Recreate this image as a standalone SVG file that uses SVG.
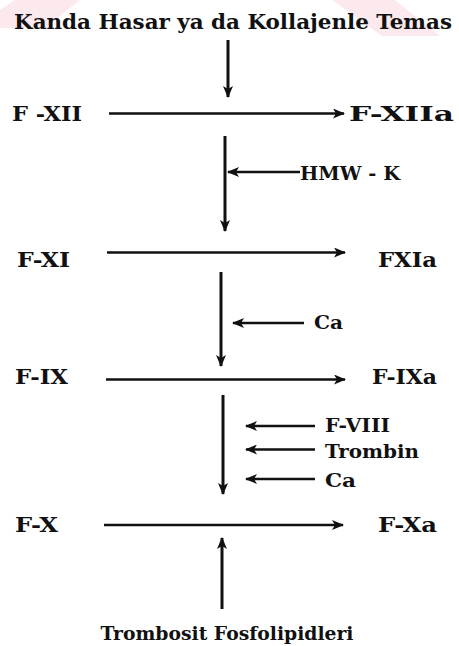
<svg xmlns="http://www.w3.org/2000/svg" width="459" height="646" viewBox="0 0 459 646">
  <defs>
    <marker id="head" viewBox="0 0 12 10" refX="11" refY="5" markerWidth="12" markerHeight="10" markerUnits="userSpaceOnUse" orient="auto">
      <path d="M0,0 L12,5 L0,10 L3,5 Z" fill="#111"/>
    </marker>
    <style>
      .t { font-family: "DejaVu Serif", "Liberation Serif", serif; font-weight: bold; fill: #111; }
      .big { font-size: 20.5px; }
      .fac { font-size: 20px; }
      .lab { font-size: 19px; }
      .ln { stroke: #111; stroke-width: 3; fill: none; marker-end: url(#head); }
      .lnh { stroke: #111; stroke-width: 2.6; fill: none; marker-end: url(#head); }
    </style>
  </defs>
  <rect width="459" height="646" fill="#fff"/>
  <!-- faint background bands -->
  <g fill="#fbe4e8" opacity="0.8">
    <polygon points="15,0 80,0 45,28 0,28 0,10"/>
    <polygon points="332,0 395,0 440,36 382,36"/>
  </g>

  <g id="title"><text class="t big" x="233" y="29" text-anchor="middle" textLength="438" lengthAdjust="spacingAndGlyphs">Kanda Hasar ya da Kollajenle Temas</text></g>

  <g id="f12"><text class="t fac" x="12" y="121" textLength="70" lengthAdjust="spacingAndGlyphs">F -XII</text></g>
  <g id="f12a"><text class="t fac" x="349" y="121" textLength="105" lengthAdjust="spacingAndGlyphs">F-XIIa</text></g>
  <g id="hmwk"><text class="t lab" x="300" y="180" textLength="100" lengthAdjust="spacingAndGlyphs">HMW - K</text></g>

  <g id="f11"><text class="t fac" x="17" y="267" textLength="53" lengthAdjust="spacingAndGlyphs">F-XI</text></g>
  <g id="f11a"><text class="t fac" x="378" y="267" textLength="59" lengthAdjust="spacingAndGlyphs">FXIa</text></g>
  <g id="ca1"><text class="t lab" x="314" y="329" textLength="29" lengthAdjust="spacingAndGlyphs">Ca</text></g>

  <g id="f9"><text class="t fac" x="15" y="384" textLength="53" lengthAdjust="spacingAndGlyphs">F-IX</text></g>
  <g id="f9a"><text class="t fac" x="372" y="384" textLength="65" lengthAdjust="spacingAndGlyphs">F-IXa</text></g>
  <g id="f8"><text class="t lab" x="325" y="432" textLength="65" lengthAdjust="spacingAndGlyphs">F-VIII</text></g>
  <g id="trombin"><text class="t lab" x="325" y="458" textLength="94" lengthAdjust="spacingAndGlyphs">Trombin</text></g>
  <g id="ca2"><text class="t lab" x="325" y="487" textLength="31" lengthAdjust="spacingAndGlyphs">Ca</text></g>

  <g id="f10"><text class="t fac" x="15" y="532" textLength="43" lengthAdjust="spacingAndGlyphs">F-X</text></g>
  <g id="f10a"><text class="t fac" x="378" y="532" textLength="59" lengthAdjust="spacingAndGlyphs">F-Xa</text></g>
  <g id="tf"><text class="t lab" x="227" y="640" text-anchor="middle" textLength="253" lengthAdjust="spacingAndGlyphs">Trombosit Fosfolipidleri</text></g>

  <g id="connectors">
    <!-- vertical cascade -->
    <line class="ln" x1="228" y1="40" x2="228" y2="97"/>
    <line class="ln" x1="225" y1="136" x2="225" y2="231"/>
    <line class="ln" x1="221" y1="272" x2="221" y2="366"/>
    <line class="ln" x1="223" y1="395" x2="223" y2="494"/>
    <line class="ln" x1="222" y1="609" x2="222" y2="538"/>
    <!-- conversions -->
    <line class="lnh" x1="109" y1="113.5" x2="344" y2="113.5"/>
    <line class="lnh" x1="107" y1="252.5" x2="345" y2="252.5"/>
    <line class="lnh" x1="106" y1="379.5" x2="345" y2="379.5"/>
    <line class="lnh" x1="104" y1="525" x2="343" y2="525"/>
    <!-- cofactor inputs -->
    <line class="lnh" x1="300" y1="172" x2="228" y2="172"/>
    <line class="lnh" x1="304" y1="323" x2="233" y2="323"/>
    <line class="lnh" x1="315" y1="426" x2="246" y2="426"/>
    <line class="lnh" x1="315" y1="449.5" x2="246" y2="449.5"/>
    <line class="lnh" x1="315" y1="479" x2="246" y2="479"/>
  </g>
</svg>
